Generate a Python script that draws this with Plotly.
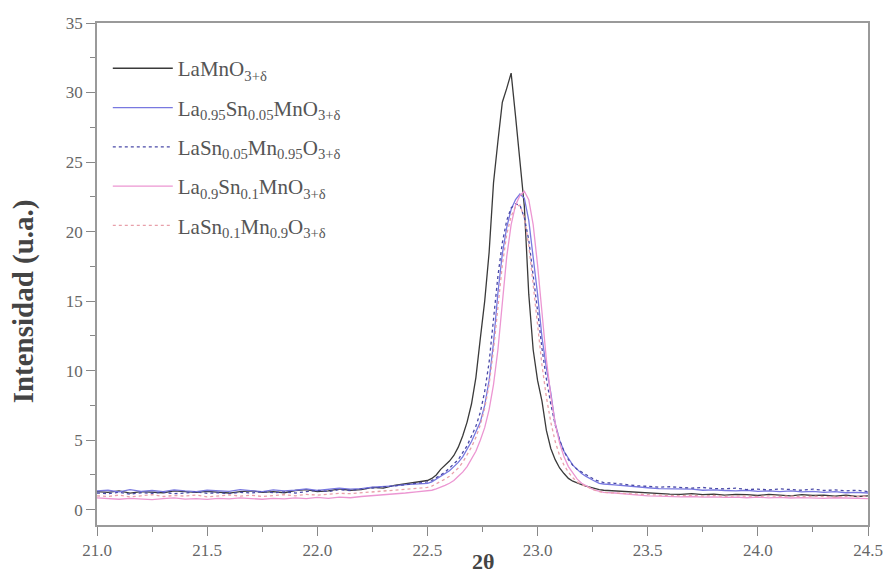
import plotly.graph_objects as go

# ---- x grid (2θ) ----
x_left = [21.00, 21.05, 21.10, 21.15, 21.20, 21.25, 21.30, 21.35, 21.40, 21.45,
          21.50, 21.55, 21.60, 21.65, 21.70, 21.75, 21.80, 21.85, 21.90, 21.95,
          22.00, 22.05, 22.10, 22.15, 22.20, 22.25, 22.30, 22.35, 22.40, 22.45]
x_peak = [22.50, 22.52, 22.54, 22.56, 22.58, 22.60, 22.62, 22.64, 22.66, 22.68,
          22.70, 22.72, 22.74, 22.76, 22.78, 22.80, 22.82, 22.84, 22.86, 22.88,
          22.90, 22.92, 22.94, 22.96, 22.98, 23.00, 23.02, 23.04, 23.06, 23.08,
          23.10, 23.12, 23.14, 23.16, 23.18, 23.20, 23.22, 23.24, 23.26, 23.28, 23.30]
x_right = [23.35, 23.40, 23.45, 23.50, 23.55, 23.60, 23.65, 23.70, 23.75, 23.80,
           23.85, 23.90, 23.95, 24.00, 24.05, 24.10, 24.15, 24.20, 24.25, 24.30,
           24.35, 24.40, 24.45, 24.50]

# ---- LaMnO3+δ ----
s1_left = [1.30, 1.25, 1.35, 1.20, 1.30, 1.28, 1.22, 1.35, 1.30, 1.25,
           1.32, 1.28, 1.20, 1.30, 1.36, 1.25, 1.30, 1.22, 1.38, 1.45,
           1.30, 1.35, 1.50, 1.40, 1.45, 1.60, 1.55, 1.75, 1.85, 2.00]
s1_peak = [2.1, 2.25, 2.5, 2.9, 3.2, 3.5, 3.9, 4.5, 5.3, 6.3,
           7.6, 9.5, 12.3, 15.0, 18.5, 23.5, 26.5, 29.3, 30.3, 31.4,
           28.3, 25.0, 21.8, 15.5, 11.5, 9.3, 7.8, 5.7, 4.4, 3.6,
           3.0, 2.6, 2.25, 2.05, 1.9, 1.8, 1.7, 1.6, 1.5, 1.45, 1.4]
s1_right = [1.35, 1.30, 1.22, 1.18, 1.15, 1.12, 1.10, 1.15, 1.08, 1.12,
            1.05, 1.10, 1.08, 1.02, 1.10, 1.05, 1.00, 1.08, 1.02, 1.05,
            0.98, 1.05, 0.95, 1.00]

# ---- La0.95Sn0.05MnO3+δ ----
s2_left = [1.35, 1.40, 1.28, 1.45, 1.32, 1.38, 1.30, 1.42, 1.35, 1.30,
           1.40, 1.36, 1.32, 1.45, 1.38, 1.30, 1.42, 1.35, 1.40, 1.50,
           1.38, 1.45, 1.55, 1.48, 1.52, 1.62, 1.65, 1.72, 1.80, 1.85]
s2_peak = [1.9, 2.0, 2.2, 2.4, 2.6, 2.8, 3.1, 3.4, 3.8, 4.3,
           4.9, 5.6, 6.3, 7.5, 9.3, 12.0, 15.6, 18.4, 20.3, 21.6,
           22.3, 22.7, 22.4, 20.8, 18.3, 15.5, 12.4, 10.2, 8.4, 6.2,
           5.0, 4.2, 3.7, 3.2, 2.9, 2.6, 2.4, 2.2, 2.05, 1.9, 1.85]
s2_right = [1.78, 1.70, 1.62, 1.58, 1.52, 1.50, 1.45, 1.48, 1.40, 1.42,
            1.38, 1.35, 1.40, 1.32, 1.36, 1.30, 1.35, 1.28, 1.32, 1.25,
            1.30, 1.22, 1.25, 1.20]

# ---- LaSn0.05Mn0.95O3+δ ----
s3_left = [1.20, 1.15, 1.25, 1.12, 1.22, 1.18, 1.25, 1.15, 1.20, 1.28,
           1.18, 1.22, 1.15, 1.25, 1.20, 1.30, 1.22, 1.28, 1.20, 1.32,
           1.40, 1.30, 1.45, 1.38, 1.50, 1.55, 1.62, 1.70, 1.80, 1.90]
s3_peak = [2.0, 2.1, 2.3, 2.5, 2.7, 3.0, 3.3, 3.6, 4.1, 4.6,
           5.3, 6.0, 7.0, 8.5, 10.6, 13.5, 16.8, 19.2, 20.8, 21.7,
           22.0, 21.9, 21.0, 19.4, 17.0, 14.3, 11.6, 9.4, 7.6, 6.1,
           5.0, 4.2, 3.6, 3.2, 2.9, 2.7, 2.5, 2.3, 2.15, 2.05, 1.95]
s3_right = [1.90, 1.80, 1.72, 1.68, 1.62, 1.65, 1.58, 1.55, 1.60, 1.52,
            1.50, 1.55, 1.45, 1.48, 1.42, 1.50, 1.45, 1.40, 1.48, 1.38,
            1.42, 1.35, 1.40, 1.30]

# ---- La0.9Sn0.1MnO3+δ ----
s4_left = [0.85, 0.80, 0.75, 0.82, 0.78, 0.72, 0.80, 0.85, 0.76, 0.80,
           0.74, 0.82, 0.78, 0.85, 0.80, 0.75, 0.82, 0.78, 0.85, 0.80,
           0.88, 0.82, 0.90, 0.86, 0.95, 1.00, 1.05, 1.12, 1.20, 1.28]
s4_peak = [1.35, 1.4, 1.5, 1.6, 1.75, 1.9, 2.1, 2.4, 2.7, 3.1,
           3.6, 4.2, 5.0, 5.9, 7.2, 9.0, 11.5, 15.0, 18.2, 20.5,
           21.9, 22.6, 22.9, 22.3, 20.5, 17.6, 14.0, 10.8, 8.2, 6.2,
           4.8, 3.8, 3.1, 2.6, 2.2, 1.9, 1.7, 1.55, 1.4, 1.3, 1.25]
s4_right = [1.20, 1.12, 1.05, 1.00, 0.98, 0.95, 0.92, 0.95, 0.90, 0.92,
            0.88, 0.90, 0.86, 0.90, 0.85, 0.88, 0.84, 0.87, 0.85, 0.82,
            0.86, 0.83, 0.85, 0.80]

# ---- LaSn0.1Mn0.9O3+δ ----
s5_left = [1.00, 0.95, 1.05, 0.92, 1.00, 1.08, 0.95, 1.02, 0.98, 1.05,
           0.92, 1.00, 1.06, 0.98, 1.04, 0.95, 1.02, 1.08, 1.00, 1.10,
           1.05, 1.12, 1.18, 1.15, 1.22, 1.28, 1.32, 1.40, 1.48, 1.55]
s5_peak = [1.6, 1.7, 1.85, 2.0, 2.2, 2.4, 2.7, 3.0, 3.4, 3.9,
           4.5, 5.2, 6.1, 7.3, 9.0, 11.5, 14.6, 17.6, 19.8, 21.1,
           21.8, 21.9, 21.0, 19.0, 16.2, 13.2, 10.4, 8.1, 6.3, 4.9,
           3.9, 3.2, 2.7, 2.3, 2.0, 1.8, 1.65, 1.5, 1.4, 1.3, 1.25]
s5_right = [1.20, 1.15, 1.10, 1.08, 1.05, 1.02, 1.00, 1.04, 0.98, 1.02,
            0.96, 1.00, 0.98, 0.95, 1.00, 0.96, 0.98, 0.94, 0.97, 0.95,
            0.92, 0.96, 0.93, 0.95]

names = [
    "LaMnO<sub>3+δ</sub>",
    "La<sub>0.95</sub>Sn<sub>0.05</sub>MnO<sub>3+δ</sub>",
    "LaSn<sub>0.05</sub>Mn<sub>0.95</sub>O<sub>3+δ</sub>",
    "La<sub>0.9</sub>Sn<sub>0.1</sub>MnO<sub>3+δ</sub>",
    "LaSn<sub>0.1</sub>Mn<sub>0.9</sub>O<sub>3+δ</sub>",
]

x = x_left + x_peak + x_right
series = [
    s1_left + s1_peak + s1_right,
    s2_left + s2_peak + s2_right,
    s3_left + s3_peak + s3_right,
    s4_left + s4_peak + s4_right,
    s5_left + s5_peak + s5_right,
]
colors = ["#3a3a3a", "#7878e0", "#4a4aa8", "#ec96d2", "#e8a0aa"]
dashes = ["solid", "solid", "dot", "solid", "dot"]

fig = go.Figure()
for i, (name, y, c, d) in enumerate(zip(names, series, colors, dashes)):
    fig.add_trace(go.Scatter(x=x, y=y, mode="lines", name=name, legendgroup=f"g{i}",
                             line=dict(color=c, width=1.3, dash=d)))

font_family = "Liberation Serif"
axis_common = dict(
    showline=True, mirror=True, linecolor="#9a9a9a", linewidth=1.5,
    ticks="outside", ticklen=9, tickwidth=1, tickcolor="#888",
    showgrid=False, zeroline=False,
    tickfont=dict(family=font_family, size=17, color="#666"),
)

fig.update_layout(
    width=884, height=576,
    margin=dict(l=97, r=16, t=23, b=51, autoexpand=False),
    paper_bgcolor="white", plot_bgcolor="white",
    font=dict(family=font_family, color="#444"),
    legend=dict(x=0.014, y=0.95, xanchor="left", yanchor="top",
                bgcolor="rgba(0,0,0,0)", font=dict(family=font_family, size=21, color="#555"),
                tracegroupgap=9, itemwidth=60),
    showlegend=True,
    annotations=[
        dict(text="<b>Intensidad (u.a.)</b>", xref="paper", yref="paper",
             x=-0.095, y=0.445, xanchor="center", yanchor="middle", textangle=-90,
             showarrow=False, font=dict(family=font_family, size=29, color="#444")),
        dict(text="<b>2θ</b>", xref="paper", yref="paper",
             x=0.5, y=-0.072, xanchor="center", yanchor="middle",
             showarrow=False, font=dict(family=font_family, size=22, color="#444")),
    ],
)
fig.update_xaxes(range=[21, 24.5], dtick=0.5, tick0=21, tickformat=".1f",
                 minor=dict(dtick=0.25, ticks="outside", ticklen=5, tickcolor="#888"),
                 **axis_common)
fig.update_yaxes(range=[-1.1, 35], dtick=5, tick0=0,
                 minor=dict(dtick=2.5, ticks="outside", ticklen=5, tickcolor="#888"),
                 **axis_common)

# Remove the default page margin so the 884x576 figure fills the window exactly.
fig.write_html("out.html", config={"displayModeBar": False},
               post_script="document.body.style.margin='0';document.body.style.overflow='hidden';")
